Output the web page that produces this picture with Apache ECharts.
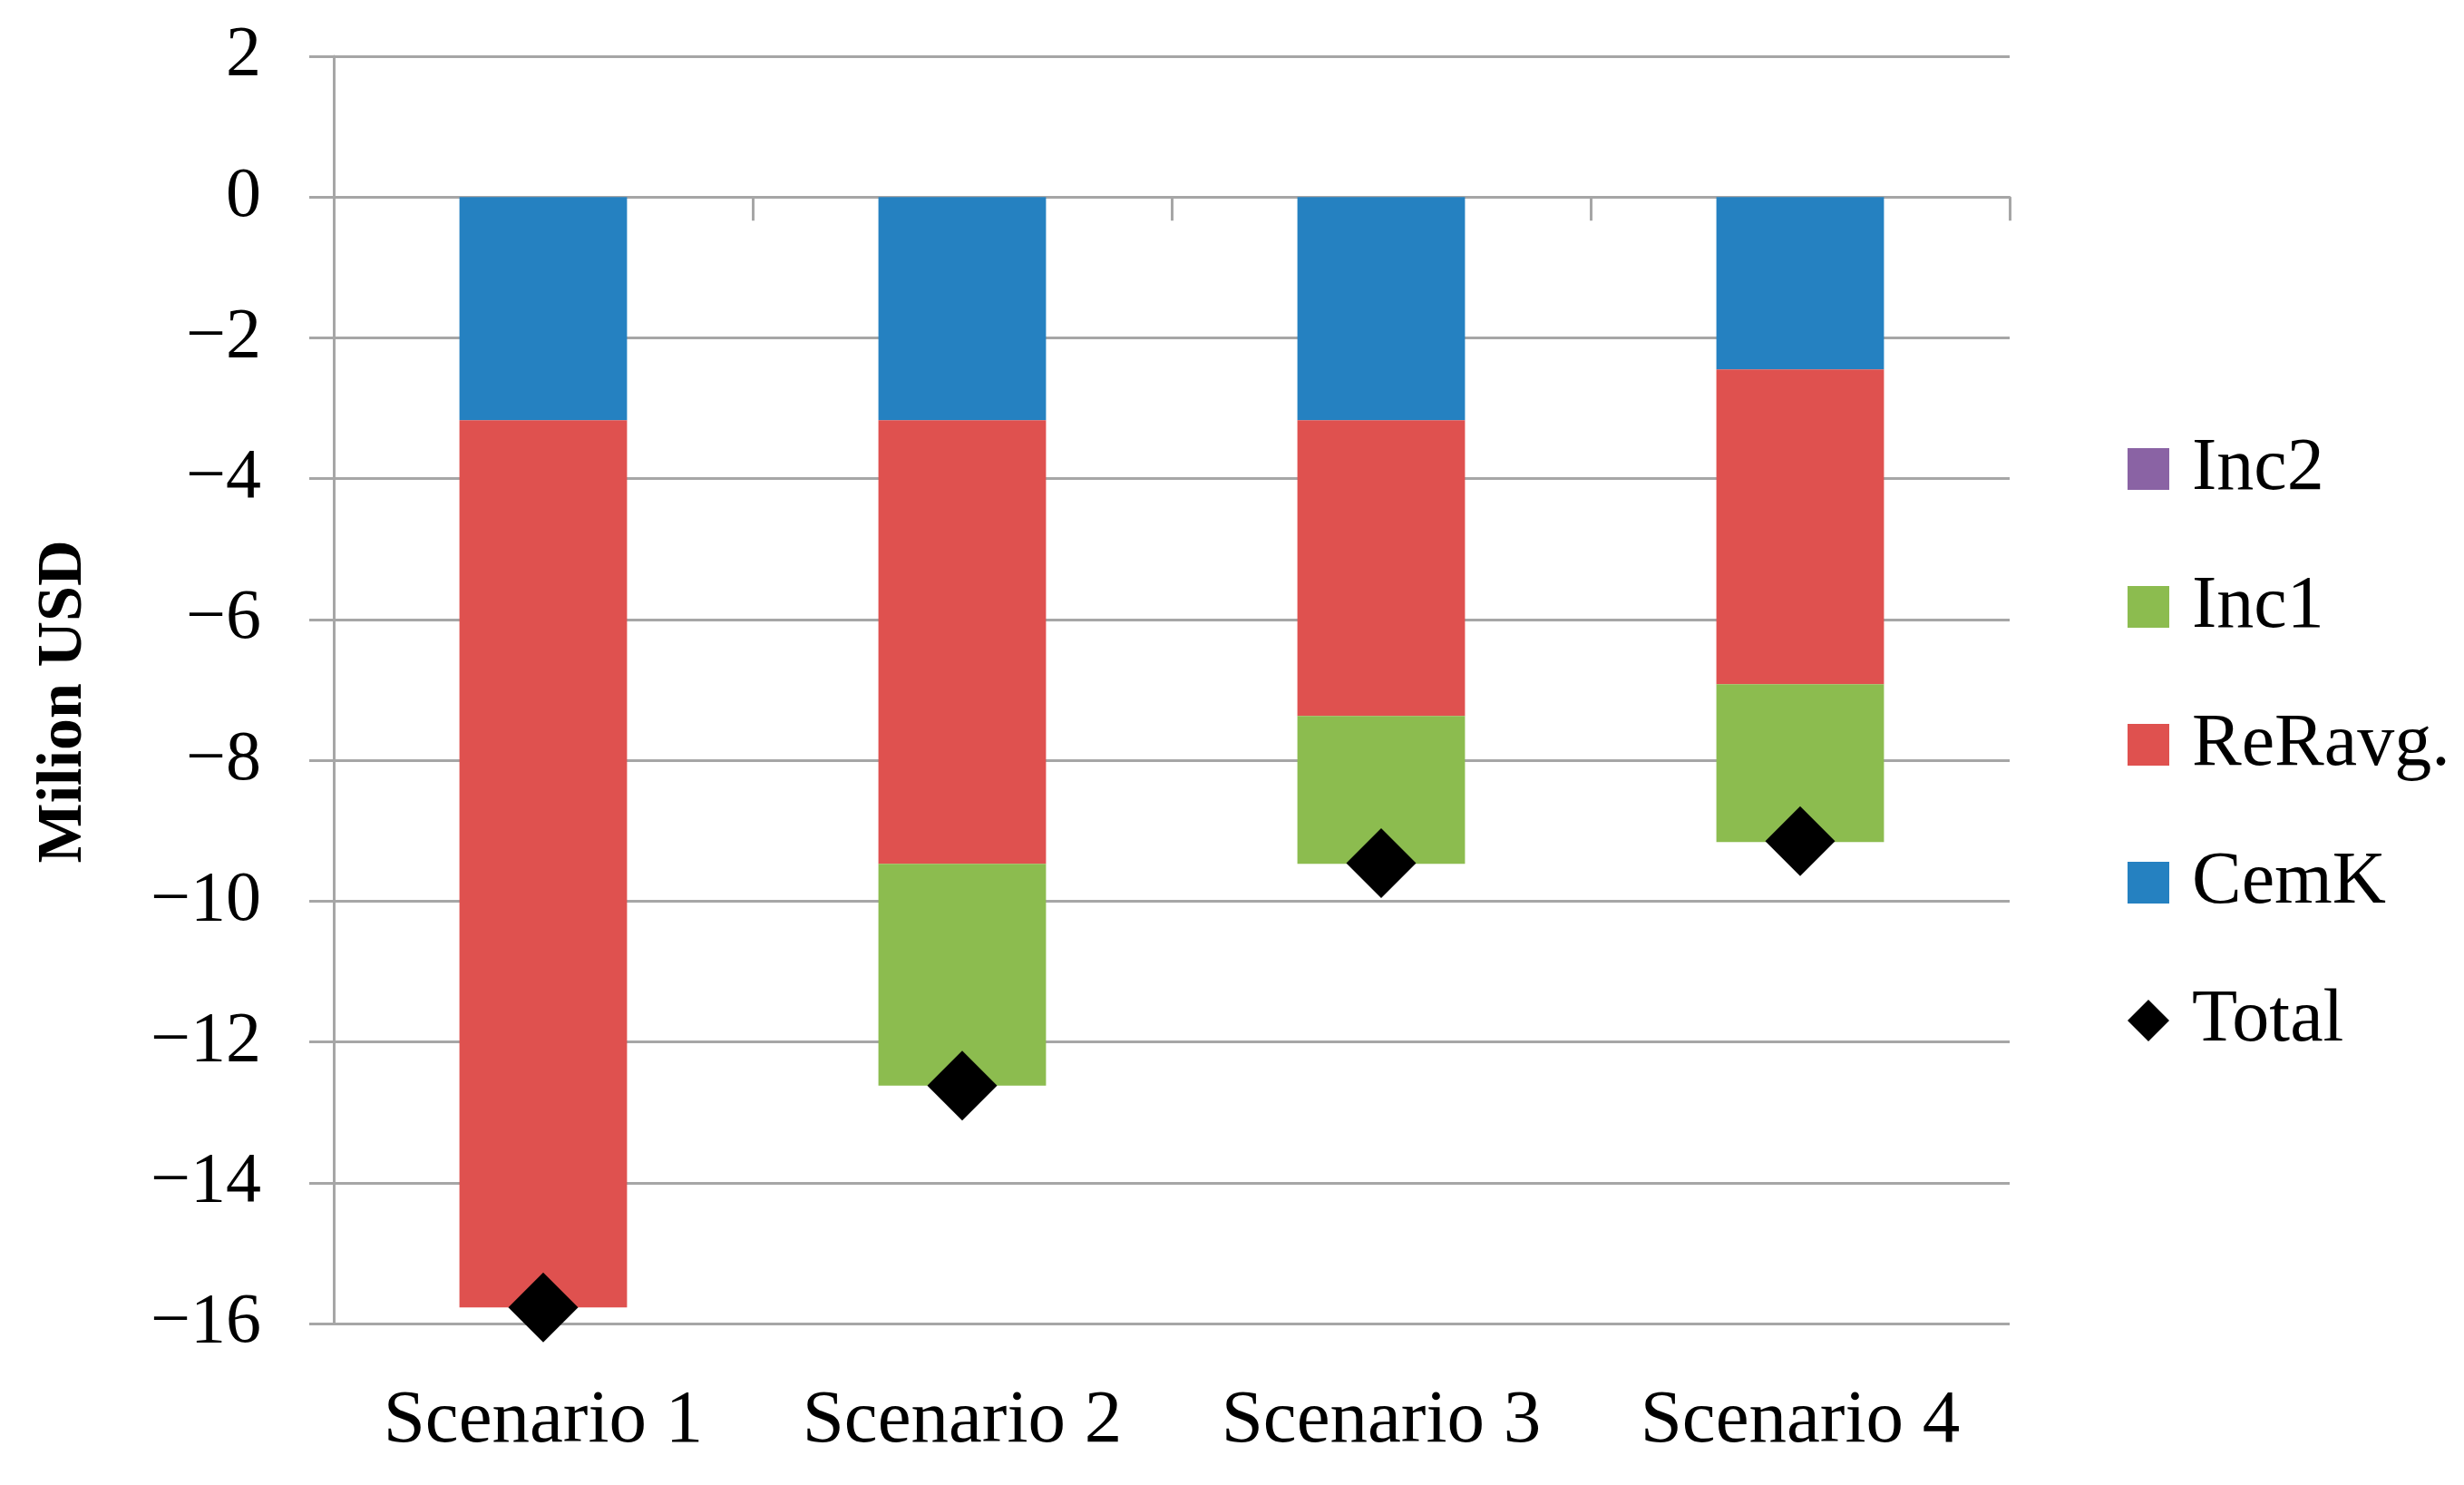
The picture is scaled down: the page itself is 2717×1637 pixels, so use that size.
<!DOCTYPE html>
<html>
<head>
<meta charset="utf-8">
<script src="https://cdn.jsdelivr.net/npm/echarts@6/dist/echarts.min.js"></script>
<style>
  html, body { margin: 0; padding: 0; background: #ffffff; }
  #chart { width: 2717px; height: 1637px; }
</style>
</head>
<body>
<div id="chart"></div>
<script>
const categories = ['Scenario 1', 'Scenario 2', 'Scenario 3', 'Scenario 4'];
const cemK   = [-3.17, -3.17, -3.17, -2.45];
const reRavg = [-12.60, -6.30, -4.20, -4.47];
const inc1   = [0, -3.15, -2.10, -2.24];
const inc2   = [0, 0, 0, 0];
const total  = [-15.77, -12.62, -9.46, -9.15];
const legendOrder = ['Inc2', 'Inc1', 'ReRavg.', 'CemK', 'Total'];
const yMin = -16, yMax = 2, yStep = 2;

const FONT = 'Liberation Serif';
const GRID_COLOR = '#a6a6a6';

const chart = echarts.init(document.getElementById('chart'), null, { renderer: 'canvas' });

const barSeries = (name, data, color) => ({
  name: name,
  type: 'bar',
  stack: 'total',
  data: data,
  barWidth: '40%',
  xAxisIndex: 0,
  itemStyle: { color: color },
  emphasis: { disabled: true }
});

chart.setOption({
  animation: false,
  backgroundColor: '#ffffff',
  grid: { left: 368, right: 501, top: 62, bottom: 178, containLabel: false },
  legend: {
    orient: 'vertical',
    left: 2346,
    top: 476,
    padding: 0,
    itemWidth: 46,
    itemHeight: 46,
    itemGap: 70,
    data: legendOrder.map(n => n === 'Total' ? { name: n, icon: 'diamond' } : { name: n, icon: 'rect' }),
    textStyle: { fontFamily: FONT, fontSize: 82, color: '#000', lineHeight: 80, padding: [0, 0, 0, 20] }
  },
  xAxis: [
    {
      type: 'category',
      data: categories,
      position: 'bottom',
      axisLine: { show: false, onZero: false },
      axisTick: { show: false },
      splitLine: { show: false },
      axisLabel: { fontFamily: FONT, fontSize: 83, color: '#000', margin: 67, interval: 0 }
    },
    {
      type: 'category',
      data: categories,
      position: 'bottom',
      axisLine: { show: true, onZero: true, lineStyle: { color: GRID_COLOR, width: 3 } },
      axisTick: { show: true, length: 26, lineStyle: { color: GRID_COLOR, width: 3 } },
      axisLabel: { show: false },
      splitLine: { show: false }
    }
  ],
  yAxis: {
    type: 'value',
    min: yMin,
    max: yMax,
    interval: yStep,
    name: 'Milion USD',
    nameLocation: 'middle',
    nameGap: 262,
    nameTextStyle: { fontFamily: FONT, fontSize: 70, fontWeight: 'bold', color: '#000', padding: [0, 26, 0, 0] },
    axisLine: { show: true, lineStyle: { color: GRID_COLOR, width: 3 } },
    axisTick: { show: true, length: 27, lineStyle: { color: GRID_COLOR, width: 3 } },
    splitLine: { show: true, lineStyle: { color: GRID_COLOR, width: 3 } },
    axisLabel: {
      fontFamily: FONT, fontSize: 78, color: '#000', margin: 80,
      formatter: v => (v < 0 ? '\u2212' + Math.abs(v) : String(v))
    }
  },
  series: [
    barSeries('CemK', cemK, '#2581c1'),
    barSeries('ReRavg.', reRavg, '#df514f'),
    barSeries('Inc1', inc1, '#8cbc4f'),
    barSeries('Inc2', inc2, '#8a63a4'),
    {
      name: 'Total',
      type: 'scatter',
      xAxisIndex: 0,
      data: total,
      symbol: 'diamond',
      symbolSize: 77,
      itemStyle: { color: '#000000', opacity: 1 },
      z: 10,
      emphasis: { disabled: true }
    }
  ]
});
</script>
</body>
</html>
